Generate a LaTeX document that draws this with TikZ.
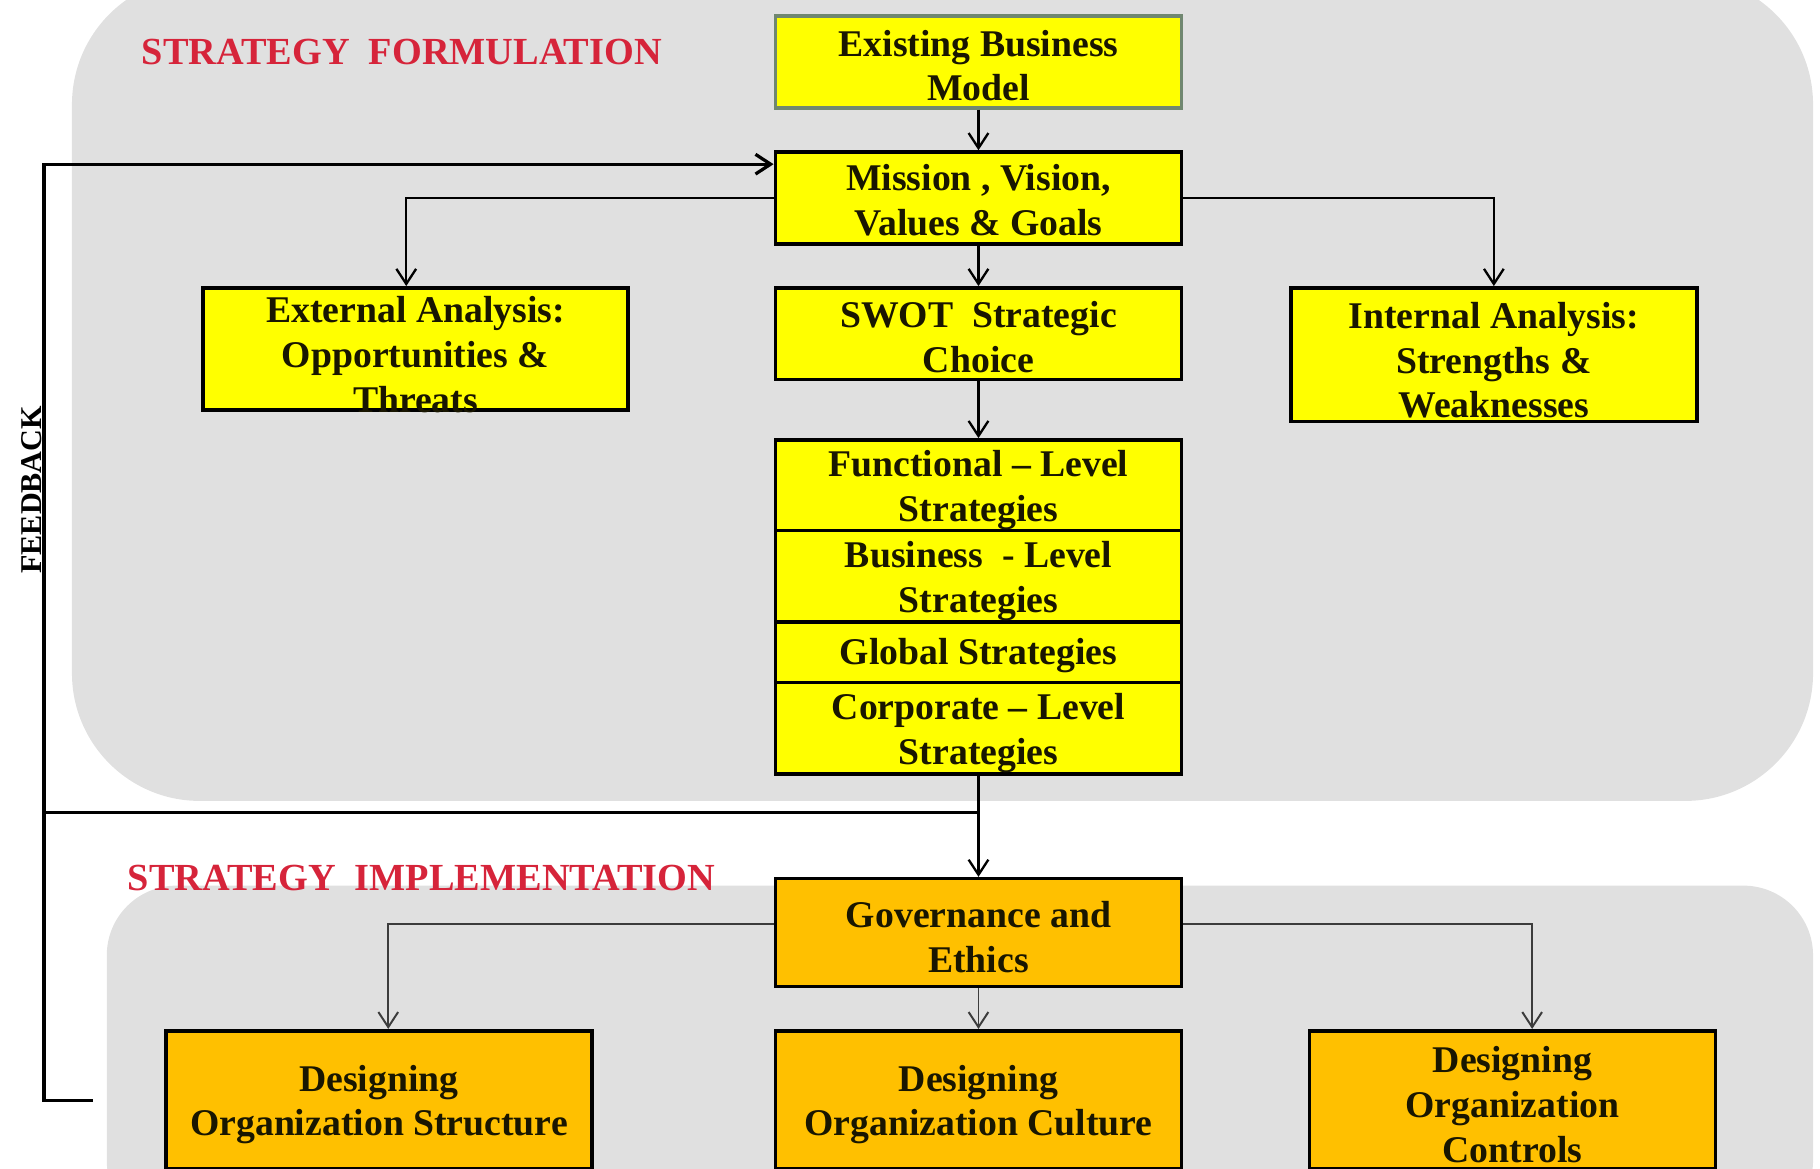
\documentclass[tikz,border=0pt]{standalone}
\usepackage{fontspec}
\setmainfont{Liberation Serif}
\usetikzlibrary{arrows.meta,calc}
\definecolor{panel}{RGB}{224,224,224}
\definecolor{boxyellow}{RGB}{255,255,0}
\definecolor{boxorange}{RGB}{255,192,0}
\definecolor{titlered}{RGB}{214,36,58}
\definecolor{modelframe}{RGB}{112,135,112}
\definecolor{linkgray}{RGB}{60,60,60}
\definecolor{inktext}{RGB}{25,22,0}
\begin{document}
\begin{tikzpicture}[x=1pt,y=-1pt,
  boxtext/.style={font=\fontsize{32.5}{38.5}\selectfont\bfseries, text=inktext,
                  align=center, inner sep=0pt},
  ybox/.style={draw=black, line width=3.1pt, fill=boxyellow, inner sep=0pt},
  obox/.style={draw=black, line width=3.1pt, fill=boxorange, inner sep=0pt},
  heading/.style={font=\fontsize{33}{38}\selectfont\bfseries, text=titlered, inner sep=0pt},
  barb/.style={-{Straight Barb[length=13pt,width=17pt]}},
  link/.style={line width=2pt, black, barb},
  sublink/.style={line width=1.7pt, linkgray, barb},
  fbline/.style={line width=2.8pt, black},
]
\useasboundingbox (0,0) rectangle (1568,1007);

% background panels
\fill[panel, rounded corners=110pt] (62,-20) rectangle (1562,690);
\fill[panel, rounded corners=60pt] (92,763) rectangle (1562,1060);

% headings
\node[heading, anchor=west] (formhead) at (122,45) {STRATEGY\ \ FORMULATION};
\node[heading, anchor=west] (implhead) at (110,756) {STRATEGY\ \ IMPLEMENTATION};

% formulation boxes
\node[ybox, draw=modelframe, minimum width=350pt, minimum height=79pt] (ebm) at (843,53.5) {};
\node[ybox, minimum width=350pt, minimum height=79pt] (mvvg) at (843,170.5) {};
\node[ybox, minimum width=366pt, minimum height=105pt] (ext) at (358,300.5) {};
\node[ybox, minimum width=350pt, minimum height=79pt] (swot) at (843,287.5) {};
\node[ybox, minimum width=350pt, minimum height=115pt] (int) at (1287,305.5) {};

% stacked strategy levels
\node[ybox, minimum width=350pt, minimum height=78pt] (func) at (843,418) {};
\node[ybox, minimum width=350pt, minimum height=79pt] (busi) at (843,496.5) {};
\node[ybox, minimum width=350pt, minimum height=52pt] (glob) at (843,562) {};
\node[ybox, minimum width=350pt, minimum height=79pt] (corp) at (843,627.5) {};

% implementation boxes
\node[obox, minimum width=350pt, minimum height=93pt] (gov) at (843,803.5) {};
\node[obox, minimum width=367pt, minimum height=119pt] (struct) at (326.5,947.5) {};
\node[obox, minimum width=350pt, minimum height=119pt] (cult) at (843,947.5) {};
\node[obox, minimum width=350pt, minimum height=119pt] (ctrl) at (1303,947.5) {};

% box texts, set a little below each box centre
\node[boxtext] (ebmtxt)    at ($(ebm)+(0,3)$)    {Existing Business\\Model};
\node[boxtext] (mvvgtxt)   at ($(mvvg)+(0,2)$)   {Mission , Vision,\\Values \& Goals};
\node[boxtext] (exttxt)    at ($(ext)+(0,5)$)    {External Analysis:\\Opportunities \&\\Threats};
\node[boxtext] (swottxt)   at ($(swot)+(0,3)$)   {SWOT\ \ Strategic\\Choice};
\node[boxtext] (inttxt)    at ($(int)+(0,5)$)    {Internal Analysis:\\Strengths \&\\Weaknesses};
\node[boxtext] (functxt)   at ($(func)+(0,4)$)   {Functional -- Level\\Strategies};
\node[boxtext] (busitxt)   at ($(busi)+(0,4)$)   {Business\ \ - Level\\Strategies};
\node[boxtext] (globtxt)   at ($(glob)+(0,3)$)   {Global Strategies};
\node[boxtext] (corptxt)   at ($(corp)+(0,4)$)   {Corporate -- Level\\Strategies};
\node[boxtext] (govtxt)    at ($(gov)+(0,4)$)    {Governance and\\Ethics};
\node[boxtext] (structtxt) at ($(struct)+(0,4)$) {Designing\\Organization Structure};
\node[boxtext] (culttxt)   at ($(cult)+(0,4)$)   {Designing\\Organization Culture};
\node[boxtext] (ctrltxt)   at ($(ctrl)+(0,4)$)   {Designing\\Organization\\Controls};

% feedback label
\node[font=\fontsize{26}{30}\selectfont\bfseries, rotate=90, inner sep=0pt] (fblabel) at (27,422) {FEEDBACK};

% formulation connectors
\draw[link] (ebm) -- (mvvg);
\draw[link] (mvvg) -- (swot);
\draw[link] (swot) -- (func);
\draw[link] (mvvg.west) -| ($(ext.north)+(-8,0)$);
\draw[link] (mvvg.east) -| (int.north);

% corporate level to governance, with the feedback tee
\coordinate (fbtee) at (843,700);
\coordinate (fbcorner) at (38,948);
\coordinate (fbstub) at (80,948);
\draw[fbline] (fbtee) -- (fbtee -| fbcorner);
\draw[link] (corp) -- (gov);

% feedback loop back to the mission box
\draw[fbline, barb] (fbstub) -- (fbcorner) |- ($(mvvg.north west)+(0,12)$);

% implementation connectors
\draw[sublink] ($(gov.north west)+(0,41)$) -| ($(struct.north)+(8,0)$);
\draw[sublink] ($(gov.north east)+(0,41)$) -| ($(ctrl.north)+(17,0)$);
\draw[sublink] (gov) -- (cult);
\end{tikzpicture}
\end{document}
